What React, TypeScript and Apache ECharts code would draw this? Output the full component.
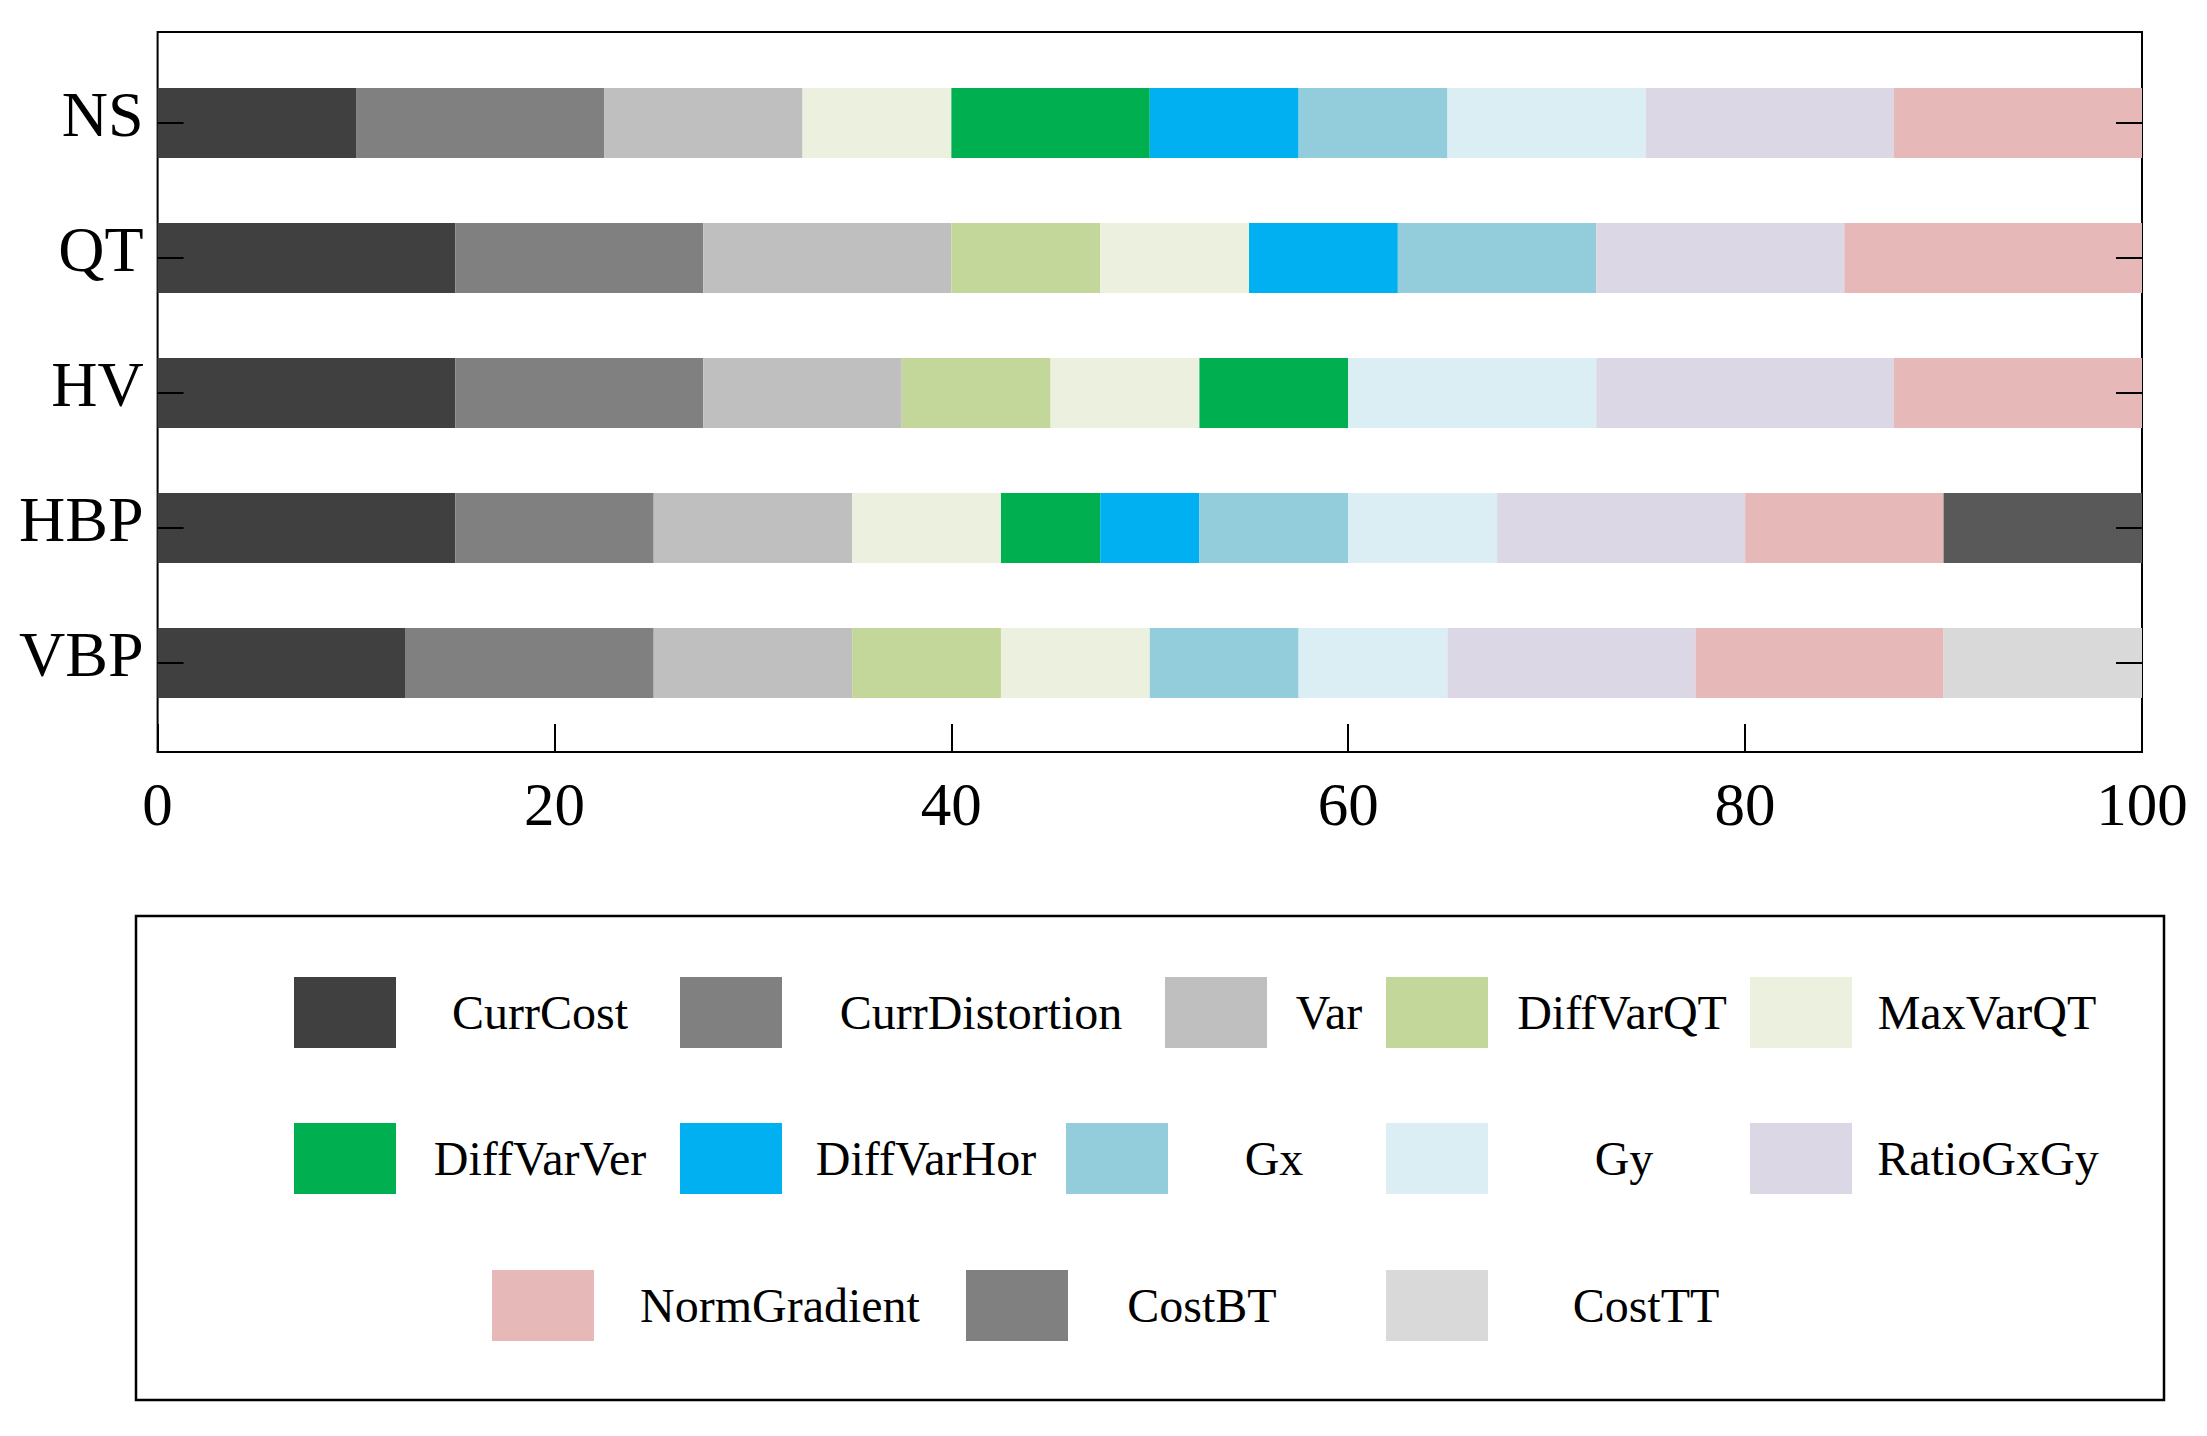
import React, { useEffect, useRef } from 'react';
import * as echarts from 'echarts';

const FONT = '"Liberation Serif", "Times New Roman", serif';

const categories = ['NS', 'QT', 'HV', 'HBP', 'VBP'];
const xTicks = [0, 20, 40, 60, 80, 100];

const seriesNames = [
  'CurrCost', 'CurrDistortion', 'Var', 'DiffVarQT', 'MaxVarQT',
  'DiffVarVer', 'DiffVarHor', 'Gx', 'Gy', 'RatioGxGy',
  'NormGradient', 'CostBT', 'CostTT',
];

const currCost = [10, 15, 15, 15, 12.5];
const currDistortion = [12.5, 12.5, 12.5, 10, 12.5];
const varValues = [10, 12.5, 10, 10, 10];
const diffVarQT = [0, 7.5, 7.5, 0, 7.5];
const maxVarQT = [7.5, 7.5, 7.5, 7.5, 7.5];
const diffVarVer = [10, 0, 7.5, 5, 0];
const diffVarHor = [7.5, 7.5, 0, 5, 0];
const gx = [7.5, 10, 0, 7.5, 7.5];
const gy = [10, 0, 12.5, 7.5, 7.5];
const ratioGxGy = [12.5, 12.5, 15, 12.5, 12.5];
const normGradient = [12.5, 15, 12.5, 10, 12.5];
const costBT = [0, 0, 0, 10, 0];
const costTT = [0, 0, 0, 0, 10];

const seriesData = [
  currCost, currDistortion, varValues, diffVarQT, maxVarQT,
  diffVarVer, diffVarHor, gx, gy, ratioGxGy,
  normGradient, costBT, costTT,
];

const barColors = [
  '#404040', '#808080', '#BFBFBF', '#C4D79B', '#EBF1DE',
  '#00B050', '#00B0F0', '#93CDDC', '#DBEEF4', '#DCD7E5',
  '#E6B9B8', '#595959', '#D9D9D9',
];
const legendColors = [
  '#404040', '#808080', '#BFBFBF', '#C4D79B', '#EBF1DE',
  '#00B050', '#00B0F0', '#93CDDC', '#DBEEF4', '#DCD7E5',
  '#E6B9B8', '#808080', '#D9D9D9',
];

// legend layout: [left, top, text slot width]
const legendLayout: [number, number, number][] = [
  [294, 977, 278], [680, 977, 388], [1165, 977, 114], [1386, 977, 258], [1750, 977, 260],
  [294, 1123, 278], [680, 1123, 278], [1066, 1123, 202], [1386, 1123, 262], [1750, 1123, 262],
  [492, 1270, 362], [966, 1270, 258], [1386, 1270, 306],
];

export default function App() {
  const ref = useRef<HTMLDivElement>(null);
  useEffect(() => {
    const chart = echarts.init(ref.current!, null, { renderer: 'svg' });
    const plotLeft = 157.6;
    const plotWidth = 2142 - 157.6;

    const legends = seriesNames.map((name, i) => {
      const [l, t, w] = legendLayout[i];
      return {
        left: l,
        top: t,
        padding: 0,
        itemWidth: 102,
        itemHeight: 71,
        itemGap: 0,
        icon: 'rect',
        selectedMode: false,
        data: [{ name, itemStyle: { color: legendColors[i] } }],
        formatter: (n: string) => `{t|${n}}`,
        textStyle: {
          color: '#000',
          fontFamily: FONT,
          fontSize: 48,
          rich: { t: { width: w, align: 'center', fontFamily: FONT, fontSize: 48, color: '#000' } },
        },
      };
    });

    const option: any = {
      animation: false,
      backgroundColor: '#fff',
      grid: [
        { left: plotLeft, width: plotWidth, top: 55.5, height: 675, containLabel: false },
        {
          left: plotLeft, width: plotWidth, top: 32, height: 720, containLabel: false,
          show: true, borderColor: '#000', borderWidth: 2, backgroundColor: 'transparent',
        },
      ],
      xAxis: [
        { type: 'value', gridIndex: 0, min: 0, max: 100, show: false },
        {
          type: 'value', gridIndex: 1, min: 0, max: 100, interval: 20,
          axisLine: { show: true, lineStyle: { color: '#000', width: 2 } },
          axisTick: { show: true, inside: true, length: 28, lineStyle: { color: '#000', width: 2 } },
          axisLabel: {
            color: '#000', fontFamily: FONT, fontSize: 61, margin: 22,
            formatter: (v: number) => (xTicks.includes(v) ? String(v) : ''),
          },
          splitLine: { show: false },
        },
      ],
      yAxis: [
        {
          type: 'category', gridIndex: 0, data: categories, inverse: true, z: 10,
          axisLine: { show: false },
          axisTick: { show: true, inside: true, alignWithLabel: true, length: 26, lineStyle: { color: '#000', width: 2 } },
          axisLabel: {
            color: '#000', fontFamily: FONT, fontSize: 64, margin: 14,
            formatter: (v: string) => `{c|${v}}`,
            rich: { c: { color: '#000', fontFamily: FONT, fontSize: 64, padding: [0, 0, 17, 0] } },
          },
        },
        {
          type: 'category', gridIndex: 0, data: categories, inverse: true, position: 'right', z: 10,
          axisLine: { show: false },
          axisTick: { show: true, inside: true, alignWithLabel: true, length: 26, lineStyle: { color: '#000', width: 2 } },
          axisLabel: { show: false },
        },
        { type: 'value', gridIndex: 1, show: false, min: 0, max: 1 },
      ],
      legend: legends,
      graphic: [
        {
          type: 'rect', silent: true,
          shape: { x: 136, y: 916, width: 2028, height: 484 },
          style: { fill: 'none', stroke: '#000', lineWidth: 2.5 },
        },
      ],
      series: seriesNames.map((name, i) => ({
        name,
        type: 'bar',
        stack: 'total',
        xAxisIndex: 0,
        yAxisIndex: 0,
        barWidth: 70,
        itemStyle: { color: barColors[i] },
        emphasis: { disabled: true },
        data: seriesData[i],
      })),
    };
    chart.setOption(option);
    return () => chart.dispose();
  }, []);
  return (
    <div
      ref={ref}
      style={{ position: 'fixed', left: 0, top: 0, width: 2207, height: 1436, background: '#fff' }}
    />
  );
}
